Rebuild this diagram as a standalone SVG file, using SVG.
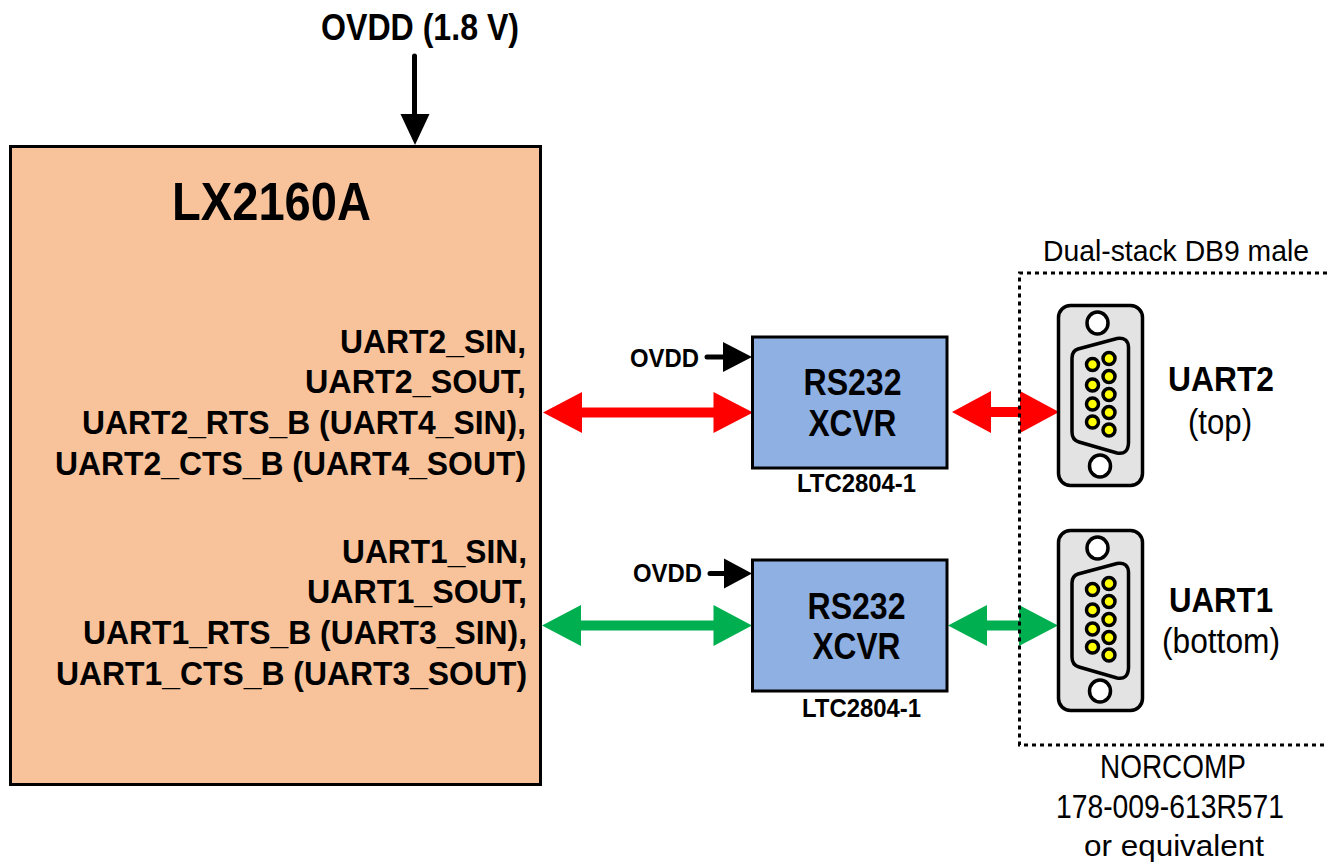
<svg xmlns="http://www.w3.org/2000/svg" width="1327" height="863" viewBox="0 0 1327 863">
<style>
text{font-family:"Liberation Sans",Arial,sans-serif;fill:#000}
.b{font-weight:bold}
.lbl{font-size:33px;font-weight:bold;text-anchor:end}
.xc{font-size:36px;font-weight:bold;text-anchor:middle}
.sm{font-size:25px;font-weight:bold}
.n{font-size:33px;text-anchor:middle}
.box{fill:#8EB0E3;stroke:#000;stroke-width:3}
.shell{fill:#E3E3E3;stroke:#000;stroke-width:3.5}
.hole{fill:#fff;stroke:#000;stroke-width:3.5}
.pin{fill:#FFFF00;stroke:#000;stroke-width:3.5}
</style>
<defs>
<g id="db9">
<rect class="shell" x="1058.500" y="305.500" width="84" height="180" rx="12"/>
<ellipse class="hole" cx="1097.500" cy="323" rx="10.500" ry="11"/>
<ellipse class="hole" cx="1100" cy="466" rx="10.500" ry="11"/>
<path d="M1078 349L1117 338.500Q1128 337 1128.500 347L1128.500 443Q1128 455 1117 453L1079 442Q1072 440 1072 432L1072 358Q1072 351 1078 349Z" fill="none" stroke="#000" stroke-width="3.500"/>
<circle class="pin" cx="1092.500" cy="364.500" r="6"/><circle class="pin" cx="1092.500" cy="385" r="6"/><circle class="pin" cx="1092.500" cy="404" r="6"/><circle class="pin" cx="1092.500" cy="422" r="6"/>
<circle class="pin" cx="1109" cy="358.500" r="6"/><circle class="pin" cx="1109" cy="376.500" r="6"/><circle class="pin" cx="1109" cy="394.500" r="6"/><circle class="pin" cx="1109" cy="412.500" r="6"/><circle class="pin" cx="1109" cy="430" r="6"/>
</g>
</defs>
<g id="connectors">
<path d="M414.500 56V116" stroke="#000" stroke-width="5" stroke-linecap="round" fill="none"/>
<path d="M400.500 114H429.500L415 145Z" fill="#000"/>
<path d="M707 357H726" stroke="#000" stroke-width="5" stroke-linecap="round" fill="none"/>
<path d="M723 342L752 357L723 372Z" fill="#000"/>
<path d="M710 573.500H727" stroke="#000" stroke-width="5" stroke-linecap="round" fill="none"/>
<path d="M724 558.500L752 573.500L724 588.500Z" fill="#000"/>
<path id="red-a" d="M543 412.500L582 392V407.500H713.500V392L753 412.500L713.500 433V417.500H582V433Z" fill="#F00"/>
<path id="red-b" d="M952 412L991 391V407H1020V391L1059 412L1020 433V417H991V433Z" fill="#F00"/>
<path id="green-a" d="M542 625.500L581 605V620.500H713.500V605L752 625.500L713.500 646V630.500H581V646Z" fill="#00B050"/>
<path id="green-b" d="M948 625.500L987 605V620.500H1019V605L1058 625.500L1019 646V630.500H987V646Z" fill="#00B050"/>
</g>
<g id="dual-stack">
<path d="M1327 273H1019.500V745H1327" fill="none" stroke="#000" stroke-width="3" stroke-dasharray="4 4"/>
<text x="1176" y="261" font-size="30" text-anchor="middle" textLength="266" lengthAdjust="spacingAndGlyphs">Dual-stack DB9 male</text>
<text class="n" x="1173" y="778" textLength="146" lengthAdjust="spacingAndGlyphs">NORCOMP</text>
<text class="n" x="1170" y="818" textLength="228" lengthAdjust="spacingAndGlyphs">178-009-613R571</text>
<text x="1174" y="856" font-size="30" text-anchor="middle" textLength="180" lengthAdjust="spacingAndGlyphs">or equivalent</text>
</g>
<g id="ovdd-main"><text class="b" x="420" y="40" font-size="36" text-anchor="middle" textLength="198" lengthAdjust="spacingAndGlyphs">OVDD (1.8 V)</text></g>
<g id="lx2160a">
<rect x="10.500" y="146.500" width="530" height="638" fill="#F8C39B" stroke="#000" stroke-width="3"/>
<text class="b" x="271.500" y="220" font-size="54" text-anchor="middle" textLength="199" lengthAdjust="spacingAndGlyphs">LX2160A</text>
<text class="lbl" x="526" y="353" textLength="186" lengthAdjust="spacingAndGlyphs">UART2_SIN,</text>
<text class="lbl" x="526" y="393" textLength="221" lengthAdjust="spacingAndGlyphs">UART2_SOUT,</text>
<text class="lbl" x="526" y="434" textLength="444" lengthAdjust="spacingAndGlyphs">UART2_RTS_B (UART4_SIN),</text>
<text class="lbl" x="526" y="475" textLength="471" lengthAdjust="spacingAndGlyphs">UART2_CTS_B (UART4_SOUT)</text>
<text class="lbl" x="527" y="563" textLength="185" lengthAdjust="spacingAndGlyphs">UART1_SIN,</text>
<text class="lbl" x="527" y="603" textLength="220" lengthAdjust="spacingAndGlyphs">UART1_SOUT,</text>
<text class="lbl" x="527" y="644" textLength="444" lengthAdjust="spacingAndGlyphs">UART1_RTS_B (UART3_SIN),</text>
<text class="lbl" x="527" y="685" textLength="471" lengthAdjust="spacingAndGlyphs">UART1_CTS_B (UART3_SOUT)</text>
</g>
<g id="xcvr-top">
<rect class="box" x="752.500" y="337" width="194.500" height="131"/>
<text class="xc" x="852.500" y="395" textLength="98" lengthAdjust="spacingAndGlyphs">RS232</text>
<text class="xc" x="852.500" y="436" textLength="88" lengthAdjust="spacingAndGlyphs">XCVR</text>
<text class="sm" x="630" y="367" textLength="69" lengthAdjust="spacingAndGlyphs">OVDD</text>
<text class="sm" x="797" y="492" textLength="119" lengthAdjust="spacingAndGlyphs">LTC2804-1</text>
</g>
<g id="xcvr-bottom">
<rect class="box" x="752.500" y="560" width="194.500" height="131"/>
<text class="xc" x="856.500" y="619" textLength="98" lengthAdjust="spacingAndGlyphs">RS232</text>
<text class="xc" x="856.500" y="659" textLength="88" lengthAdjust="spacingAndGlyphs">XCVR</text>
<text class="sm" x="633" y="582" textLength="69" lengthAdjust="spacingAndGlyphs">OVDD</text>
<text class="sm" x="802" y="717" textLength="119" lengthAdjust="spacingAndGlyphs">LTC2804-1</text>
</g>
<g id="db9-top">
<use href="#db9"/>
<text class="b" x="1221" y="391" font-size="35" text-anchor="middle" textLength="106" lengthAdjust="spacingAndGlyphs">UART2</text>
<text x="1220" y="434" font-size="35" text-anchor="middle" textLength="64" lengthAdjust="spacingAndGlyphs">(top)</text>
</g>
<g id="db9-bottom">
<use href="#db9" y="225"/>
<text class="b" x="1221" y="612" font-size="35" text-anchor="middle" textLength="104" lengthAdjust="spacingAndGlyphs">UART1</text>
<text x="1221" y="653" font-size="35" text-anchor="middle" textLength="118" lengthAdjust="spacingAndGlyphs">(bottom)</text>
</g>
</svg>
